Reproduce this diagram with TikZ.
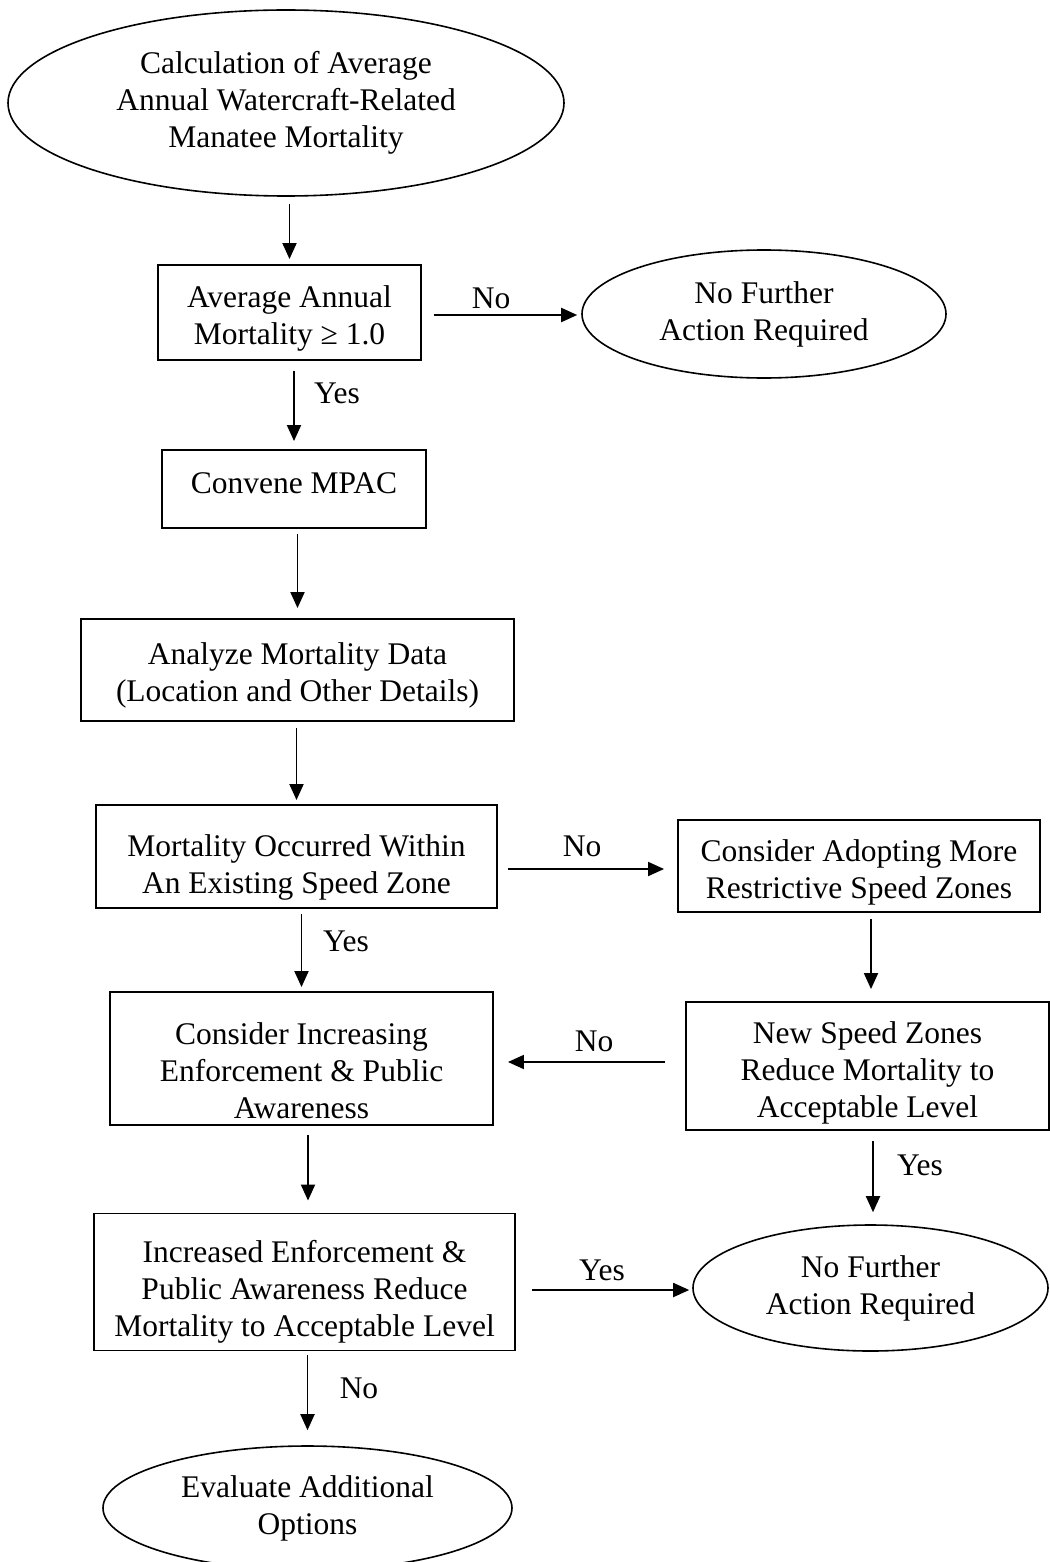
\documentclass[tikz,border=0pt]{standalone}
\usepackage{fontspec}
\setmainfont{Liberation Serif}
\usetikzlibrary{shapes.geometric,arrows.meta}
\begin{document}
\begin{tikzpicture}[x=1pt,y=-1pt,
  every node/.style={font=\fontsize{31.5}{37}\selectfont},
  box/.style={draw,line width=1.9pt,rectangle,inner sep=0pt},
  oval/.style={draw,line width=1.6pt,ellipse,inner sep=0pt,align=center},
  txt/.style={align=center,inner sep=0pt},
  arr/.style={line width=1.9pt,-{Triangle[length=16pt,width=14pt]}},
  lbl/.style={inner sep=0pt}
]
\useasboundingbox (0,0) rectangle (1049,1562);

% nodes
\node[oval,minimum width=556,minimum height=186] (e1) at (286,103)
  {Calculation of Average\\Annual Watercraft-Related\\Manatee Mortality};
\node[box,minimum width=263,minimum height=95] (b1) at (289.5,312.5) {};
\node[txt] (t1) at (289.5,318) {Average Annual\\Mortality ≥ 1.0};
\node[oval,minimum width=364,minimum height=128] (e2) at (764,314)
  {No Further\\Action Required};
\node[box,minimum width=264,minimum height=78] (b2) at (294,489) {};
\node[txt] (t2) at (294,483) {Convene MPAC};
\node[box,minimum width=433,minimum height=102] (b3) at (297.5,670) {};
\node[txt] (t3) at (297.5,675) {Analyze Mortality Data\\(Location and Other Details)};
\node[box,minimum width=401,minimum height=103] (b4) at (296.5,856.5) {};
\node[txt] (t4) at (296.5,867) {Mortality Occurred Within\\An Existing Speed Zone};
\node[box,minimum width=362,minimum height=92] (b5) at (859,866) {};
\node[txt] (t5) at (859,872) {Consider Adopting More\\Restrictive Speed Zones};
\node[box,minimum width=363,minimum height=128] (b6) at (867.5,1066) {};
\node[txt] (t6) at (867.5,1073) {New Speed Zones\\Reduce Mortality to\\Acceptable Level};
\node[box,minimum width=383,minimum height=133] (b7) at (301.5,1058.5) {};
\node[txt] (t7) at (301.5,1071) {Consider Increasing\\Enforcement \& Public\\Awareness};
\node[box,minimum width=421,minimum height=137] (b8) at (304.5,1282) {};
\node[txt] (t8) at (304.5,1292) {Increased Enforcement \&\\Public Awareness Reduce\\Mortality to Acceptable Level};
\node[oval,minimum width=355,minimum height=126] (e3) at (870.5,1288)
  {No Further\\Action Required};
\node[oval,minimum width=409,minimum height=124] (e4) at (307.5,1508)
  {Evaluate Additional\\Options};

% connectors
\draw[arr,shorten <=7pt,shorten >=5pt] (e1.south -| b1.north) -- (b1.north);
\draw[arr,shorten <=12pt,shorten >=4pt] ([yshift=-2.5pt]b1.east) -- ([yshift=-2.5pt]b1.east -| e2.west);
\draw[arr,shorten <=10pt,shorten >=8pt] (b1.south -| b2.north) -- (b2.north);
\draw[arr,shorten <=5pt,shorten >=10pt] (b2.south -| b3.north) -- (b3.north);
\draw[arr,shorten <=6pt,shorten >=4pt] (b3.south -| b4.north) -- (b4.north);
\draw[arr,shorten <=10pt,shorten >=13pt] ([yshift=-3pt]b5.west -| b4.east) -- ([yshift=-3pt]b5.west);
\draw[arr,shorten <=5pt,shorten >=4pt] (b4.south -| b7.north) -- (b7.north);
\draw[arr,shorten <=6pt,shorten >=12pt] ([xshift=3.5pt]b6.north |- b5.south) -- ([xshift=3.5pt]b6.north);
\draw[arr,shorten <=20pt,shorten >=14pt] ([yshift=4pt]b6.west) -- ([yshift=4pt]b6.west -| b7.east);
\draw[arr,shorten <=9pt,shorten >=12pt] ([xshift=3.5pt]b8.north |- b7.south) -- ([xshift=3.5pt]b8.north);
\draw[arr,shorten <=10pt,shorten >=12pt] ([xshift=2.5pt]e3.north |- b6.south) -- ([xshift=2.5pt]e3.north);
\draw[arr,shorten <=16pt,shorten >=3pt] ([yshift=-2pt]e3.west -| b8.east) -- ([yshift=-2pt]e3.west);
\draw[arr,shorten <=4pt,shorten >=15pt] (b8.south -| e4.north) -- (e4.north);

% labels
\node[lbl] (l1) at (491,298) {No};
\node[lbl] (l2) at (337,393) {Yes};
\node[lbl] (l3) at (582,846) {No};
\node[lbl] (l4) at (346,941) {Yes};
\node[lbl] (l5) at (594,1041) {No};
\node[lbl] (l6) at (920,1165) {Yes};
\node[lbl] (l7) at (602,1270) {Yes};
\node[lbl] (l8) at (359,1388) {No};
\end{tikzpicture}
\end{document}
